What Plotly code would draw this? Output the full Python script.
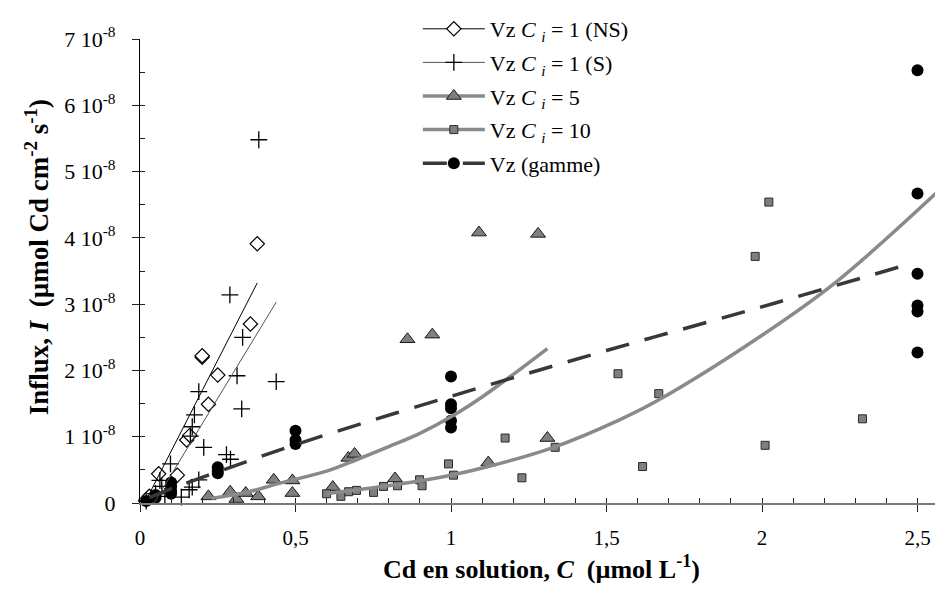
import plotly.graph_objects as go

# units of 1e-8 µmol Cd cm-2 s-1 for all y values
Y_UNIT = 1e-8

# Vz Ci = 1 (NS) - open diamonds
ns_x = [0.02, 0.03, 0.06, 0.12, 0.15, 0.16, 0.20, 0.20, 0.22, 0.25, 0.355, 0.377]
ns_y = [0.05, 0.10, 0.44, 0.42, 0.95, 1.02, 2.20, 2.22, 1.49, 1.93, 2.70, 3.91]
ns_fit_x = [0.015, 0.377]
ns_fit_y = [0.0, 3.32]

# Vz Ci = 1 (S) - crosses
s_x = [0.02, 0.05, 0.064, 0.07, 0.08, 0.098, 0.133, 0.158, 0.168, 0.189, 0.162,
       0.168, 0.175, 0.189, 0.205, 0.278, 0.291, 0.289, 0.312, 0.327, 0.33, 0.382, 0.438]
s_y = [0.03, 0.14, 0.34, 0.25, 0.10, 0.59, 0.09, 0.20, 0.24, 0.35, 1.01,
       1.15, 1.33, 1.68, 0.84, 0.73, 0.66, 3.14, 1.92, 1.42, 2.50, 5.48, 1.83]
s_fit_x = [0.045, 0.438]
s_fit_y = [0.0, 3.03]

# Vz Ci = 5 - grey triangles
ci5_x = [0.22, 0.29, 0.31, 0.34, 0.38, 0.43, 0.49, 0.49, 0.62, 0.67, 0.69, 0.82,
         0.86, 0.94, 1.09, 1.12, 1.28, 1.31]
ci5_y = [0.10, 0.17, 0.06, 0.15, 0.10, 0.35, 0.34, 0.15, 0.24, 0.68, 0.74, 0.37,
         2.47, 2.54, 4.08, 0.61, 4.06, 0.98]
ci5_fit_x = [0.23, 0.35, 0.45, 0.6, 0.7, 0.8, 0.9, 1.0, 1.1, 1.2, 1.31]
ci5_fit_y = [0.07, 0.17, 0.30, 0.48, 0.66, 0.85, 1.05, 1.30, 1.60, 1.94, 2.33]

# Vz Ci = 10 - grey squares
ci10_x = [0.60, 0.646, 0.671, 0.696, 0.751, 0.783, 0.828, 0.899, 0.907, 0.992, 1.008,
          1.174, 1.228, 1.335, 1.537, 1.616, 1.668, 1.978, 2.01, 2.022, 2.323]
ci10_y = [0.14, 0.10, 0.17, 0.19, 0.16, 0.25, 0.26, 0.35, 0.26, 0.59, 0.42,
          0.98, 0.38, 0.84, 1.95, 0.55, 1.65, 3.72, 0.87, 4.54, 1.27]
ci10_fit_x = [0.6, 0.84, 1.0, 1.12, 1.33, 1.54, 1.67, 2.0, 2.24, 2.6]
ci10_fit_y = [0.14, 0.29, 0.42, 0.55, 0.84, 1.25, 1.56, 2.53, 3.34, 4.85]

# Vz (gamme) - black dots
gam_x = [0.02, 0.05, 0.05, 0.1, 0.1, 0.1, 0.1, 0.25, 0.25, 0.25, 0.5, 0.5, 0.5,
         1, 1, 1, 1, 1, 2.5, 2.5, 2.5, 2.5, 2.5, 2.5]
gam_y = [0.03, 0.12, 0.08, 0.31, 0.25, 0.18, 0.14, 0.54, 0.49, 0.45, 1.09, 0.95, 0.89,
         1.91, 1.49, 1.43, 1.24, 1.14, 6.53, 4.67, 3.46, 2.98, 2.89, 2.27]
gam_fit_x = [0.03, 0.12, 0.25, 0.5, 1.0, 1.5, 2.0, 2.47]
gam_fit_y = [0.08, 0.25, 0.47, 0.88, 1.61, 2.30, 2.96, 3.60]

x_tickvals = [0, 0.5, 1, 1.5, 2, 2.5]
x_ticktext = ["0", "0,5", "1", "1,5", "2", "2,5"]
y_tickvals = [0, 1, 2, 3, 4, 5, 6, 7]
y_ticktext = ["0"] + [f"{v} 10<sup>-8</sup>" for v in y_tickvals[1:]]

legend_names = [
    "Vz <i>C</i> <sub><i>i</i></sub> = 1 (NS)",
    "Vz <i>C</i> <sub><i>i</i></sub> = 1 (S)",
    "Vz <i>C</i> <sub><i>i</i></sub> = 5",
    "Vz <i>C</i> <sub><i>i</i></sub> = 10",
    "Vz (gamme)",
]

GREY = "#8a8a8a"
FONT = "Liberation Serif, Times New Roman, serif"


def scaled(vals):
    return [v * Y_UNIT for v in vals]


styles = [
    dict(marker=dict(symbol="diamond", size=11, color="white", line=dict(color="black", width=1.2)),
         line=dict(color="black", width=1)),
    dict(marker=dict(symbol="cross-thin", size=12, line=dict(color="black", width=1.3)),
         line=dict(color="#555555", width=1)),
    dict(marker=dict(symbol="triangle-up", size=13, color="#7f7f7f", line=dict(color="#1a1a1a", width=1)),
         line=dict(color=GREY, width=3.5)),
    dict(marker=dict(symbol="square", size=8, color="#7f7f7f", line=dict(color="#2a2a2a", width=1)),
         line=dict(color=GREY, width=3.5)),
    dict(marker=dict(symbol="circle", size=12, color="black"),
         line=dict(color="#383838", width=3.5, dash="24px,16px")),
]

points = [(ns_x, ns_y), (s_x, s_y), (ci5_x, ci5_y), (ci10_x, ci10_y), (gam_x, gam_y)]
fits = [(ns_fit_x, ns_fit_y), (s_fit_x, s_fit_y), (ci5_fit_x, ci5_fit_y),
        (ci10_fit_x, ci10_fit_y), (gam_fit_x, gam_fit_y)]

fig = go.Figure()

for (px, py), st in zip(points, styles):
    fig.add_trace(go.Scatter(x=px, y=scaled(py), mode="markers", marker=st["marker"],
                             showlegend=False, cliponaxis=False))

for (fx, fy), st in zip(fits, styles):
    fig.add_trace(go.Scatter(x=fx, y=scaled(fy), mode="lines", line=dict(st["line"], shape="spline"),
                             showlegend=False, hoverinfo="skip"))

# legend entries (line + marker), one group each so the row gap can be set
for i, (name, st) in enumerate(zip(legend_names, styles)):
    fig.add_trace(go.Scatter(x=[None], y=[None], mode="lines+markers", name=name,
                             legendgroup=f"g{i}", marker=st["marker"], line=st["line"]))

# companion axes for the inside half of the ticks and the minor ticks
fig.add_trace(go.Scatter(x=[None], y=[None], xaxis="x2", yaxis="y2", showlegend=False))

x_range = [0, 2.582]
y_range = [0, 7 * Y_UNIT]

# the page body adds an 8px offset, so the figure is smaller than the window
fig.update_layout(
    width=935,
    height=576,
    margin=dict(l=131.5, r=0, t=10, b=80.7),
    plot_bgcolor="white",
    paper_bgcolor="white",
    font=dict(family=FONT, size=21, color="black"),
    showlegend=True,
    legend=dict(
        x=0.346, y=1.067, xanchor="left", yanchor="top",
        bgcolor="rgba(0,0,0,0)", font=dict(size=22), itemwidth=62,
        tracegroupgap=2, traceorder="grouped",
    ),
    xaxis=dict(
        range=x_range, tickvals=x_tickvals, ticktext=x_ticktext,
        ticks="outside", ticklen=7, tickcolor="#222", showline=True, linecolor="#7a7a7a",
        linewidth=1.5, showgrid=False, zeroline=False, ticklabelstandoff=8,
        title=dict(text="<b>Cd en solution, <i>C</i>  (µmol L<sup>-1</sup>)</b>",
                   font=dict(size=26), standoff=16),
    ),
    yaxis=dict(
        range=y_range, tickvals=scaled(y_tickvals), ticktext=y_ticktext,
        ticks="outside", ticklen=7, tickcolor="#222", showline=True, linecolor="black",
        linewidth=1.2, showgrid=False, zeroline=False, ticklabelstandoff=12,
        tickfont=dict(size=22),
    ),
    xaxis2=dict(
        overlaying="x", anchor="y", range=x_range, tickvals=x_tickvals,
        showticklabels=False, ticks="inside", ticklen=5, tickcolor="#222",
        showgrid=False, zeroline=False, showline=False,
        minor=dict(ticks="inside", ticklen=5, tickcolor="#222", dtick=0.1, tick0=0),
    ),
    yaxis2=dict(
        overlaying="y", anchor="x", side="left", range=y_range, tickvals=scaled(y_tickvals),
        showticklabels=False, ticks="inside", ticklen=5, tickcolor="#222",
        showgrid=False, zeroline=False, showline=False,
        minor=dict(ticks="inside", ticklen=5, tickcolor="#222", dtick=0.5 * Y_UNIT, tick0=0),
    ),
    annotations=[
        dict(
            text="<b>Influx, <i>I</i>  (µmol Cd cm<sup>-2</sup> s<sup>-1</sup>)</b>",
            textangle=-90, xref="paper", yref="paper", x=-0.128, y=0.53,
            xanchor="center", yanchor="middle", showarrow=False, font=dict(size=27),
        )
    ],
)

fig.write_html("out.html")
